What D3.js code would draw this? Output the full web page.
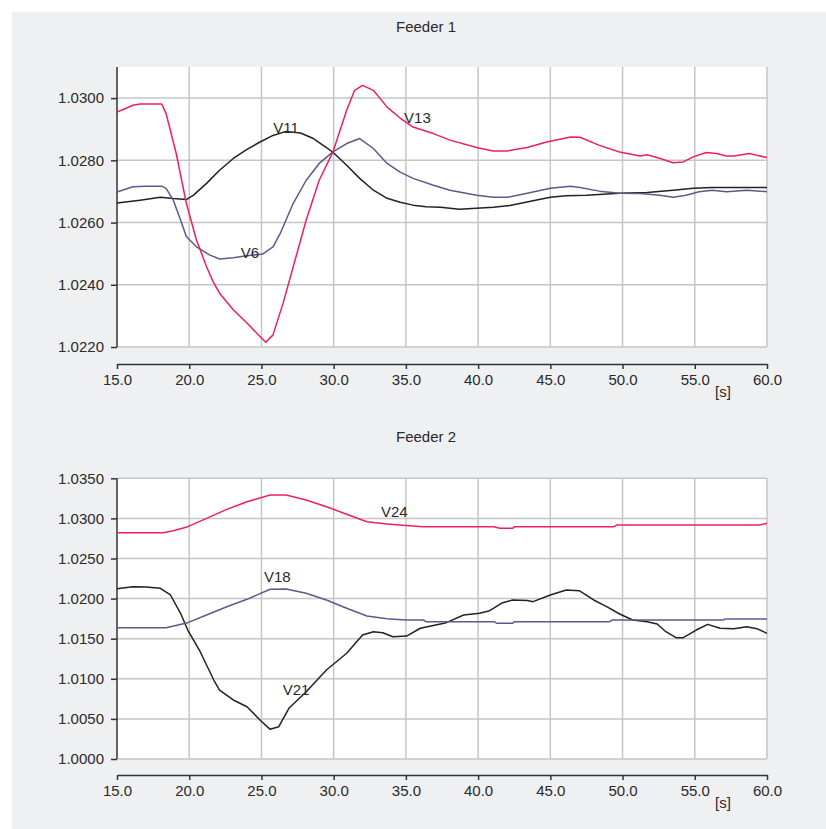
<!DOCTYPE html>
<html><head><meta charset="utf-8">
<script src="https://cdn.jsdelivr.net/npm/d3@7"></script>
<style>body{margin:0;background:#fff}svg{display:block}text{font-family:"Liberation Sans",Arial,sans-serif;font-size:15px;fill:#2a2a2a}</style>
</head><body>
<svg id="c" width="826" height="829"></svg>
<script>
// ---- data ----
const xTicks = [15, 20, 25, 30, 35, 40, 45, 50, 55, 60];
const f1YTicks = [1.022, 1.024, 1.026, 1.028, 1.030];
const f2YTicks = [1.000, 1.005, 1.010, 1.015, 1.020, 1.025, 1.030, 1.035];

const v13 = [[15,1.02955],[15.5,1.02965],[16.1,1.02977],[16.6,1.02981],[18.1,1.02981],[18.4,1.0295],[19.1,1.02822],[19.8,1.02662],[20.5,1.02544],[21.2,1.02458],[21.65,1.0241],[22.1,1.02373],[23.05,1.0232],[24,1.02277],[24.9,1.02234],[25.3,1.02215],[25.8,1.02239],[26.5,1.02341],[27.2,1.02458],[28.1,1.02608],[29,1.02736],[29.95,1.02827],[30.9,1.02961],[31.45,1.03025],[32.0,1.03041],[32.75,1.03025],[33.7,1.02971],[34.6,1.02936],[35.5,1.02907],[36.9,1.02886],[38.05,1.02865],[39.9,1.02841],[41.05,1.0283],[42,1.0283],[43.4,1.02841],[44.75,1.02859],[46.4,1.02875],[47.05,1.02874],[48.4,1.02848],[49.8,1.02827],[51.2,1.02814],[51.7,1.02818],[52.6,1.02806],[53.5,1.02792],[54.2,1.02795],[54.9,1.02811],[55.8,1.02825],[56.5,1.02822],[57.2,1.02814],[57.7,1.02814],[58.8,1.02822],[59.3,1.02816],[60,1.02809]];
const v6 = [[15,1.02698],[16.1,1.02715],[17,1.02717],[18.1,1.02717],[18.4,1.0271],[18.9,1.02672],[19.4,1.02608],[19.8,1.02555],[20.5,1.02522],[21.4,1.02496],[22.1,1.02483],[23.05,1.02487],[24,1.02493],[25.1,1.02499],[25.8,1.02522],[26.3,1.02565],[27.2,1.02662],[28.1,1.02736],[29,1.0279],[29.95,1.02827],[30.9,1.02854],[31.8,1.0287],[32.75,1.02838],[33.7,1.0279],[34.6,1.02762],[35.5,1.02742],[36.9,1.0272],[38.05,1.02704],[39.9,1.02688],[41.05,1.02681],[42,1.02681],[43.4,1.02694],[45,1.0271],[46.4,1.02717],[47.05,1.02713],[48.4,1.02701],[49.8,1.02694],[51.2,1.02693],[52.6,1.02688],[53.5,1.02681],[54.4,1.02688],[55.3,1.02699],[56.2,1.02704],[57.2,1.02699],[58.6,1.02704],[60,1.02699]];
const v11 = [[15,1.02663],[16.6,1.02672],[18,1.02681],[18.9,1.02677],[19.8,1.02674],[20.3,1.02688],[21.2,1.02726],[22.1,1.02768],[23.05,1.02806],[24,1.02835],[24.9,1.02859],[25.8,1.0288],[26.7,1.02893],[27.7,1.02888],[28.6,1.0287],[29.5,1.02841],[29.95,1.02826],[30.9,1.02784],[31.8,1.02742],[32.75,1.02704],[33.7,1.02678],[34.6,1.02665],[35.5,1.02656],[36.4,1.02651],[37.4,1.02649],[38.7,1.02643],[41.05,1.02649],[42.2,1.02655],[43.8,1.0267],[45,1.02681],[46.1,1.02686],[47.5,1.02688],[49.8,1.02694],[51.7,1.02697],[53.5,1.02704],[54.9,1.0271],[56.2,1.02713],[60,1.02713]];
const v24 = [[15,1.02822],[18.2,1.02822],[18.9,1.02847],[19.9,1.02897],[21.2,1.03001],[22.6,1.03113],[24,1.03208],[25.6,1.03292],[26.7,1.03292],[28.1,1.0323],[29.5,1.03146],[30.9,1.03051],[32.3,1.02959],[33.7,1.0293],[35,1.02912],[36.2,1.02897],[41.1,1.02897],[41.5,1.02876],[42.4,1.02876],[42.5,1.02897],[49.4,1.02897],[49.6,1.02918],[59.5,1.02918],[60,1.02939]];
const v18 = [[15,1.01637],[18.4,1.01637],[19.9,1.017],[21.2,1.01796],[22.6,1.01899],[24,1.01991],[25.6,1.02116],[26.7,1.0212],[28.1,1.02066],[29.5,1.01983],[30.9,1.01879],[32.3,1.01783],[33.7,1.0175],[35,1.01733],[36.2,1.01733],[36.4,1.01712],[41.1,1.01712],[41.3,1.01692],[42.4,1.01692],[42.5,1.01712],[49.1,1.01712],[49.3,1.01733],[57,1.01733],[57.1,1.01746],[60,1.01746]];
const v21 = [[15,1.02124],[16.1,1.02149],[17,1.02145],[18,1.02128],[18.7,1.02045],[19.4,1.01817],[19.9,1.01608],[20.7,1.01359],[21.7,1.00985],[22.1,1.0086],[23.05,1.00736],[24,1.00652],[24.9,1.00486],[25.6,1.0037],[26.2,1.00403],[26.9,1.00632],[28.1,1.00839],[29.5,1.0111],[30.9,1.01318],[32,1.01546],[32.75,1.01587],[33.4,1.01575],[34.1,1.01525],[35.05,1.01533],[36,1.0163],[37.8,1.017],[39,1.01796],[40.1,1.01817],[40.8,1.01849],[41.7,1.01949],[42.4,1.01983],[43.4,1.01975],[43.8,1.01962],[45,1.02045],[46.1,1.02107],[47,1.02099],[48,1.01983],[48.9,1.01899],[49.8,1.01808],[50.7,1.01733],[51.7,1.01712],[52.4,1.01683],[53,1.01587],[53.7,1.01513],[54.2,1.01513],[55.1,1.01608],[55.9,1.01679],[56.75,1.0163],[57.7,1.01625],[58.6,1.0165],[59.3,1.01625],[60,1.01567]];

const PINK = "#ee1f5f", PURPLE = "#5c5a8a", BLACK = "#222222";
const FONT = "Liberation Sans, Arial, sans-serif";

const svg = d3.select("#c");
svg.append("rect").attr("x",12).attr("y",12).attr("width",814).attr("height",817).attr("fill","#eff0f2");

function panel(o){
  const x = d3.scaleLinear().domain([15,60]).range([117,767]);
  const y = d3.scaleLinear().domain(o.yDomain).range([o.bottom,o.top]);
  const g = svg.append("g");
  g.append("rect").attr("x",117).attr("y",o.top).attr("width",650).attr("height",o.bottom-o.top).attr("fill","#fff");
  // grid
  g.selectAll(".gy").data(o.yTicks).join("line").attr("x1",117).attr("x2",767)
    .attr("y1",d=>y(d)).attr("y2",d=>y(d)).attr("stroke","#c6c6c6").attr("stroke-width",1.5);
  g.selectAll(".gx").data(xTicks.slice(1)).join("line").attr("y1",o.top).attr("y2",o.bottom)
    .attr("x1",d=>x(d)).attr("x2",d=>x(d)).attr("stroke","#c6c6c6").attr("stroke-width",1.5);
  // y axis
  const ya = g.append("g").attr("transform","translate(117,0)")
    .call(d3.axisLeft(y).tickValues(o.yTicks).tickFormat(d3.format(".4f")).tickSize(6).tickPadding(7).tickSizeOuter(0));
  ya.select(".domain").attr("stroke","#333").attr("stroke-width",1.5).attr("d",`M0,${o.top}V${o.bottom}`);
  ya.selectAll(".tick line").attr("stroke","#333").attr("stroke-width",1.5);
  ya.selectAll("text").attr("font-size",15).attr("font-family",FONT).attr("fill","#2a2a2a");
  // x axis
  const xa = g.append("g").attr("transform",`translate(0,${o.xAxisY})`)
    .call(d3.axisBottom(x).tickValues(xTicks).tickFormat(d3.format(".1f")).tickSize(5).tickPadding(5).tickSizeOuter(0));
  xa.select(".domain").attr("stroke","#333").attr("stroke-width",1.5);
  xa.selectAll(".tick line").attr("stroke","#333").attr("stroke-width",1.5);
  xa.selectAll("text").attr("font-size",15).attr("font-family",FONT).attr("fill","#2a2a2a");
  // lines
  const line = d3.line().x(d=>x(d[0])).y(d=>y(d[1]));
  o.series.forEach(s=>{
    g.append("path").datum(s.data).attr("d",line).attr("fill","none")
      .attr("stroke",s.color).attr("stroke-width",1.5).attr("stroke-linejoin","round");
  });
  o.labels.forEach(l=>{
    g.append("text").attr("x",x(l.t)).attr("y",y(l.v)).attr("dy","0.35em").attr("text-anchor","middle").text(l.name);
  });
  svg.append("text").attr("x",426).attr("y",o.titleY).attr("dy","0.35em").attr("text-anchor","middle").text(o.title);
  svg.append("text").attr("x",723).attr("y",o.xAxisY+28).attr("dy","0.35em").attr("text-anchor","middle").text("[s]");
}

panel({title:"Feeder 1", titleY:27, top:67, bottom:347, xAxisY:364, yDomain:[1.022,1.031], yTicks:f1YTicks,
  series:[{data:v11,color:BLACK},{data:v6,color:PURPLE},{data:v13,color:PINK}],
  labels:[{name:"V11",t:26.7,v:1.02904},{name:"V13",t:35.8,v:1.02937},{name:"V6",t:24.2,v:1.02503}]});
panel({title:"Feeder 2", titleY:437, top:478.3, bottom:759, xAxisY:775, yDomain:[1.000,1.035], yTicks:f2YTicks,
  series:[{data:v21,color:BLACK},{data:v18,color:PURPLE},{data:v24,color:PINK}],
  labels:[{name:"V24",t:34.2,v:1.0308},{name:"V18",t:26.1,v:1.02271},{name:"V21",t:27.4,v:1.00866}]});
</script>
</body></html>
